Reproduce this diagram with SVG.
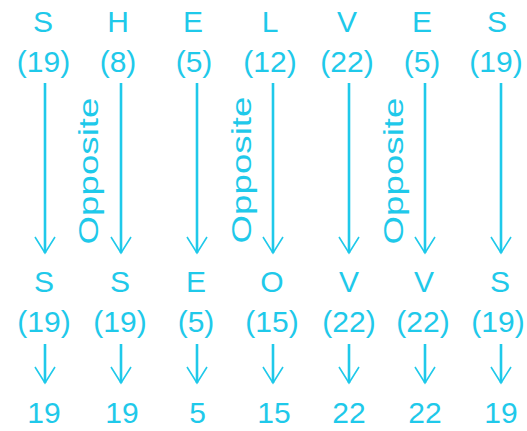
<svg xmlns="http://www.w3.org/2000/svg" width="527" height="431" viewBox="0 0 527 431">
<style>
text{font-family:"Liberation Sans",Arial,sans-serif;font-size:30px;fill:#1FC9EA;text-anchor:middle}
.op{font-size:27px}
.ln{stroke:#1FC9EA;stroke-width:2.6;fill:none}
</style>
<defs>
<marker id="ah" markerUnits="userSpaceOnUse" markerWidth="40" markerHeight="40" viewBox="-20 -20 40 40" refX="0" refY="0" orient="auto" overflow="visible">
<path d="M-16,-10 L0,0 L-16,10" fill="none" stroke="#1FC9EA" stroke-width="1.6"/>
</marker>
</defs>
<rect width="527" height="431" fill="#fff"/>
<g id="top-row">
<g id="t1"><text x="43" y="32">S</text><text x="43.5" y="72">(19)</text></g>
<g id="t2"><text x="118" y="32">H</text><text x="118" y="72">(8)</text></g>
<g id="t3"><text x="193" y="32">E</text><text x="194" y="72">(5)</text></g>
<g id="t4"><text x="270" y="32">L</text><text x="270" y="72">(12)</text></g>
<g id="t5"><text x="347" y="32">V</text><text x="347" y="72">(22)</text></g>
<g id="t6"><text x="422" y="32">E</text><text x="422" y="72">(5)</text></g>
<g id="t7"><text x="497" y="32">S</text><text x="496" y="72">(19)</text></g>
</g>
<g id="mid-row">
<g id="m1"><text x="44" y="292">S</text><text x="44" y="332">(19)</text></g>
<g id="m2"><text x="120" y="292">S</text><text x="120" y="332">(19)</text></g>
<g id="m3"><text x="196" y="292">E</text><text x="196" y="332">(5)</text></g>
<g id="m4"><text x="272" y="292">O</text><text x="272" y="332">(15)</text></g>
<g id="m5"><text x="349" y="292">V</text><text x="349" y="332">(22)</text></g>
<g id="m6"><text x="424" y="292">V</text><text x="423" y="332">(22)</text></g>
<g id="m7"><text x="500" y="292">S</text><text x="498" y="332">(19)</text></g>
</g>
<g id="bottom-row">
<g id="b1"><text x="44" y="423">19</text></g>
<g id="b2"><text x="122" y="423">19</text></g>
<g id="b3"><text x="197.5" y="423">5</text></g>
<g id="b4"><text x="274" y="423">15</text></g>
<g id="b5"><text x="349" y="423">22</text></g>
<g id="b6"><text x="425" y="423">22</text></g>
<g id="b7"><text x="501" y="423">19</text></g>
</g>
<g id="connectors">
<line class="ln" x1="45" y1="83" x2="45" y2="253" marker-end="url(#ah)"/>
<line class="ln" x1="121" y1="83" x2="121" y2="253" marker-end="url(#ah)"/>
<line class="ln" x1="197" y1="83" x2="197" y2="253" marker-end="url(#ah)"/>
<line class="ln" x1="273" y1="83" x2="273" y2="253" marker-end="url(#ah)"/>
<line class="ln" x1="349" y1="83" x2="349" y2="253" marker-end="url(#ah)"/>
<line class="ln" x1="425" y1="83" x2="425" y2="253" marker-end="url(#ah)"/>
<line class="ln" x1="501" y1="83" x2="501" y2="253" marker-end="url(#ah)"/>
<line class="ln" x1="45" y1="344" x2="45" y2="383" marker-end="url(#ah)"/>
<line class="ln" x1="121" y1="344" x2="121" y2="383" marker-end="url(#ah)"/>
<line class="ln" x1="197" y1="344" x2="197" y2="383" marker-end="url(#ah)"/>
<line class="ln" x1="273" y1="344" x2="273" y2="383" marker-end="url(#ah)"/>
<line class="ln" x1="349" y1="344" x2="349" y2="383" marker-end="url(#ah)"/>
<line class="ln" x1="425" y1="344" x2="425" y2="383" marker-end="url(#ah)"/>
<line class="ln" x1="501" y1="344" x2="501" y2="383" marker-end="url(#ah)"/>
</g>
<g id="labels">
<text class="op" transform="translate(98,171) rotate(-90)" textLength="147" lengthAdjust="spacingAndGlyphs">Opposite</text>
<text class="op" transform="translate(251,170) rotate(-90)" textLength="147" lengthAdjust="spacingAndGlyphs">Opposite</text>
<text class="op" transform="translate(403,171) rotate(-90)" textLength="147" lengthAdjust="spacingAndGlyphs">Opposite</text>
</g>
</svg>
